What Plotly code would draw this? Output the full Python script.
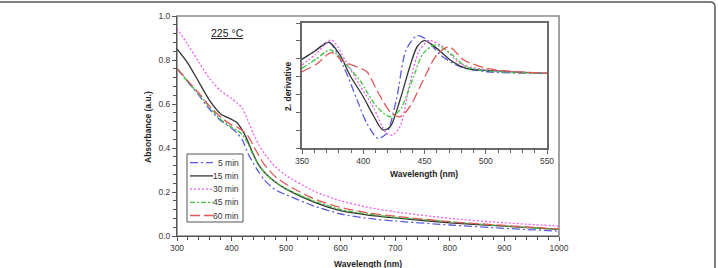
import plotly.graph_objects as go

# ---------------- data ----------------
series_names = ["5 min", "15 min", "30 min", "45 min", "60 min"]

wl_main = [300, 320, 340, 360, 380, 400, 410, 420, 430, 440, 450, 460, 480, 500, 550, 600, 650, 700, 800, 900, 1000]
abs_5 = [0.762, 0.70, 0.64, 0.575, 0.525, 0.49, 0.468, 0.435, 0.375, 0.33, 0.29, 0.255, 0.21, 0.187, 0.137, 0.10, 0.08, 0.068, 0.05, 0.035, 0.022]
abs_15 = [0.85, 0.785, 0.70, 0.615, 0.555, 0.53, 0.515, 0.48, 0.43, 0.37, 0.322, 0.29, 0.245, 0.213, 0.155, 0.115, 0.095, 0.082, 0.06, 0.045, 0.03]
abs_30 = [0.944, 0.87, 0.79, 0.715, 0.66, 0.625, 0.605, 0.58, 0.525, 0.465, 0.415, 0.375, 0.315, 0.275, 0.205, 0.16, 0.13, 0.11, 0.08, 0.06, 0.045]
abs_45 = [0.762, 0.70, 0.645, 0.585, 0.53, 0.495, 0.48, 0.46, 0.42, 0.365, 0.32, 0.29, 0.245, 0.215, 0.16, 0.12, 0.10, 0.085, 0.065, 0.045, 0.03]
abs_60 = [0.762, 0.705, 0.65, 0.59, 0.54, 0.505, 0.495, 0.48, 0.455, 0.41, 0.365, 0.325, 0.27, 0.235, 0.17, 0.13, 0.105, 0.09, 0.065, 0.048, 0.032]

wl_d_5 = [350, 360, 372, 384, 395, 403, 412, 419, 427, 435, 444, 452, 463, 479, 501, 550]
der_5 = [4.97, 5.4, 5.92, 4.55, 2.69, 1.38, 0.54, 0.82, 2.69, 5.49, 6.29, 6.05, 5.21, 4.55, 4.27, 4.18]
wl_d_15 = [350, 360, 372, 381, 389, 400, 408, 416, 422, 430, 438, 444, 450, 460, 471, 484, 506, 550]
der_15 = [4.97, 5.4, 5.92, 5.21, 4.09, 2.87, 1.85, 1.01, 1.19, 2.69, 4.55, 5.67, 6.01, 5.58, 4.93, 4.46, 4.33, 4.18]
wl_d_30 = [350, 362, 374, 386, 397, 408, 419, 424, 430, 438, 446, 454, 465, 479, 500, 550]
der_30 = [4.65, 5.3, 6.05, 4.83, 3.53, 2.31, 0.82, 0.73, 1.19, 3.62, 5.49, 6.01, 5.67, 4.74, 4.38, 4.18]
wl_d_45 = [350, 362, 373, 384, 397, 411, 422, 430, 441, 449, 459, 471, 484, 505, 550]
der_45 = [4.46, 5.0, 5.49, 4.83, 3.81, 2.31, 1.75, 2.13, 3.99, 5.30, 5.77, 5.30, 4.55, 4.30, 4.18]
wl_d_60 = [350, 362, 374, 384, 395, 403, 411, 422, 430, 438, 449, 460, 470, 482, 501, 520, 550]
der_60 = [4.27, 4.7, 5.34, 4.83, 4.55, 4.27, 3.25, 2.03, 1.75, 2.31, 3.81, 5.21, 5.67, 4.93, 4.46, 4.3, 4.18]

x_ticks_main = [300, 400, 500, 600, 700, 800, 900, 1000]
y_ticks_main = [0.0, 0.2, 0.4, 0.6, 0.8, 1.0]
x_ticks_inset = [350, 400, 450, 500, 550]

# ---------------- styles ----------------
colors = ["#5a5ade", "#333333", "#ee5bee", "#3dc43d", "#e05a5a"]
dashes = ["8px,3px,2px,3px", "solid", "2px,2px", "5px,2px,2px,2px", "10px,4px"]
FONT = "Liberation Sans, Arial, sans-serif"

W, H = 718, 268
L, R, T, B = 177, 559, 16, 236  # main plot area in pixels


def px(X):
    return (X - L) / (R - L)


def py(Y):
    return (B - Y) / (B - T)


fig = go.Figure()

main_sets = [abs_5, abs_15, abs_30, abs_45, abs_60]
for name, ys, c, d in zip(series_names, main_sets, colors, dashes):
    fig.add_trace(go.Scatter(x=wl_main, y=ys, mode="lines", name=name,
                             line=dict(color=c, dash=d, width=1.3, shape="spline", smoothing=0.6),
                             showlegend=False, xaxis="x", yaxis="y"))

inset_sets = [(wl_d_5, der_5), (wl_d_15, der_15), (wl_d_30, der_30), (wl_d_45, der_45), (wl_d_60, der_60)]
for name, (xs, ys), c, d in zip(series_names, inset_sets, colors, dashes):
    fig.add_trace(go.Scatter(x=xs, y=ys, mode="lines", name=name,
                             line=dict(color=c, dash=d, width=1.3, shape="spline", smoothing=0.8),
                             showlegend=False, xaxis="x2", yaxis="y2"))

tickfont = dict(family=FONT, size=8.5, color="#3a3a3a")

fig.update_layout(
    width=W, height=H,
    margin=dict(l=L, r=W - R, t=T, b=H - B),
    paper_bgcolor="white", plot_bgcolor="white",
    showlegend=False,
    xaxis=dict(domain=[0, 1], range=[300, 1000], tickvals=x_ticks_main,
               ticks="outside", ticklen=4, tickcolor="#555", showline=True, linecolor="#555",
               linewidth=1, showgrid=False, zeroline=False, tickfont=tickfont,
               minor=dict(dtick=20, tick0=300, ticks="outside", ticklen=3, tickcolor="#555", showgrid=False)),
    yaxis=dict(domain=[0, 1], range=[0, 1.0], tickvals=y_ticks_main, tickformat=".1f",
               ticks="outside", ticklen=4, tickcolor="#555", showline=True, linecolor="#555",
               linewidth=1, showgrid=False, zeroline=False, tickfont=tickfont,
               minor=dict(dtick=0.04, tick0=0, ticks="outside", ticklen=3, tickcolor="#555", showgrid=False)),
    xaxis2=dict(domain=[px(302), px(547)], anchor="y2", range=[350, 550], tickvals=x_ticks_inset,
                ticks="outside", ticklen=4, tickcolor="#666", showline=True, mirror=True,
                linecolor="#6a6a6a", linewidth=1.5, showgrid=False, zeroline=False, tickfont=tickfont,
                minor=dict(dtick=10, tick0=350, ticks="outside", ticklen=3, tickcolor="#666", showgrid=False)),
    yaxis2=dict(domain=[py(148), py(23)], anchor="x2", range=[0, 7], dtick=1, tick0=0,
                ticks="outside", ticklen=4, tickcolor="#666", showticklabels=False,
                showline=True, mirror=True, linecolor="#6a6a6a", linewidth=1.5,
                showgrid=False, zeroline=False),
)

shapes = []
# grey frame around main plot area
shapes.append(dict(type="rect", xref="paper", yref="paper", x0=0, x1=1, y0=0, y1=1,
                   line=dict(color="#8c8c8c", width=1.6), layer="below"))
# outer rounded frame of the figure
rx, ry = 5 / (R - L), 5 / (B - T)
xl, xr, yt, yb = px(-10), px(715), py(2), py(290)
shapes.append(dict(type="path", xref="paper", yref="paper",
                   path=f"M {xl},{yb} L {xl},{yt} L {xr - rx},{yt} Q {xr},{yt} {xr},{yt - ry} L {xr},{yb}",
                   line=dict(color="#555", width=1.5)))
# legend box
shapes.append(dict(type="rect", xref="paper", yref="paper", x0=px(187), x1=px(243), y0=py(222), y1=py(154),
                   line=dict(color="#555", width=1), fillcolor="white", layer="above"))
rows = [162.7, 175.9, 189.1, 202.3, 215.5]
annotations = []
for name, c, d, yy in zip(series_names, colors, dashes, rows):
    shapes.append(dict(type="line", xref="paper", yref="paper", x0=px(190), x1=px(213), y0=py(yy), y1=py(yy),
                       line=dict(color=c, dash=d, width=1.3), layer="above"))
    annotations.append(dict(xref="paper", yref="paper", x=px(241), y=py(yy), text=name, showarrow=False,
                            xanchor="right", yanchor="middle", font=dict(family=FONT, size=8.5, color="#333")))

annotations += [
    dict(xref="paper", yref="paper", x=px(148), y=py(127), text="<b>Absorbance (a.u.)</b>", textangle=-90,
         showarrow=False, xanchor="center", yanchor="middle", font=dict(family=FONT, size=8.5, color="#222")),
    dict(xref="paper", yref="paper", x=px(368), y=py(263.5), text="<b>Wavelength (nm)</b>",
         showarrow=False, xanchor="center", yanchor="middle", font=dict(family=FONT, size=8.5, color="#222")),
    dict(xref="paper", yref="paper", x=px(288), y=py(87), text="<b>2. derivative</b>", textangle=-90,
         showarrow=False, xanchor="center", yanchor="middle", font=dict(family=FONT, size=8.5, color="#222")),
    dict(xref="paper", yref="paper", x=px(424), y=py(174), text="<b>Wavelength (nm)</b>",
         showarrow=False, xanchor="center", yanchor="middle", font=dict(family=FONT, size=8.5, color="#222")),
    dict(xref="paper", yref="paper", x=px(227), y=py(33), text="<u>225 °C</u>",
         showarrow=False, xanchor="center", yanchor="middle", font=dict(family=FONT, size=10.5, color="#222")),
]

fig.update_layout(shapes=shapes, annotations=annotations)
fig.write_html("out.html")
